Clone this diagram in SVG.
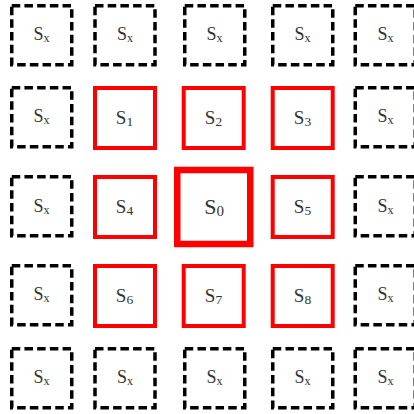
<svg xmlns="http://www.w3.org/2000/svg" width="414" height="414" viewBox="0 0 414 414">
<style>
.bg{fill:#ffffff}
.dash rect{fill:none;stroke:#000;stroke-width:3.5;stroke-dasharray:8.5 4.2}
.red rect{fill:none;stroke:#ff0000;stroke-width:4}
#S0 rect{stroke-width:6.5}
text{font-family:"Liberation Serif","Times New Roman",serif;fill:#333;text-anchor:middle}
.lx{font-size:18px}
.lx tspan{font-size:12px}
.ln{font-size:19px}
.ln tspan{font-size:13.5px}
#S0 text{font-size:22px}
#S0 text tspan{font-size:15px}
</style>
<rect class="bg" x="0" y="0" width="414" height="414"/>
<g id="connectors"/>
<g id="Sx_r1c1" class="dash"><rect x="11.75" y="5.75" width="60" height="59"/><text class="lx" x="41.5" y="39.5">S<tspan dy="2">x</tspan></text></g>
<g id="Sx_r1c2" class="dash"><rect x="95" y="5.75" width="60" height="59"/><text class="lx" x="125" y="39.5">S<tspan dy="2">x</tspan></text></g>
<g id="Sx_r1c3" class="dash"><rect x="184.75" y="5.75" width="60" height="59"/><text class="lx" x="214.5" y="39.5">S<tspan dy="2">x</tspan></text></g>
<g id="Sx_r1c4" class="dash"><rect x="272.75" y="5.75" width="60" height="59"/><text class="lx" x="302.5" y="39.5">S<tspan dy="2">x</tspan></text></g>
<g id="Sx_r1c5" class="dash"><rect x="355.25" y="5.75" width="60" height="59"/><text class="lx" x="385.5" y="39.5">S<tspan dy="2">x</tspan></text></g>
<g id="Sx_r2c1" class="dash"><rect x="11.75" y="87.75" width="60" height="59"/><text class="lx" x="41.5" y="122">S<tspan dy="2">x</tspan></text></g>
<g id="S1" class="red"><rect x="95" y="88" width="60" height="60"/><text class="ln" x="124.5" y="124">S<tspan dy="1.5">1</tspan></text></g>
<g id="S2" class="red"><rect x="183.7" y="88" width="60" height="60"/><text class="ln" x="213.5" y="124">S<tspan dy="1.5">2</tspan></text></g>
<g id="S3" class="red"><rect x="272.7" y="88" width="60" height="60"/><text class="ln" x="302.5" y="124">S<tspan dy="1.5">3</tspan></text></g>
<g id="Sx_r2c5" class="dash"><rect x="355.25" y="87.75" width="60" height="59"/><text class="lx" x="385.5" y="122">S<tspan dy="2">x</tspan></text></g>
<g id="Sx_r3c1" class="dash"><rect x="11.75" y="176.75" width="60" height="59"/><text class="lx" x="41.5" y="211.5">S<tspan dy="2">x</tspan></text></g>
<g id="S4" class="red"><rect x="95" y="177" width="60" height="60"/><text class="ln" x="124.5" y="213">S<tspan dy="1.5">4</tspan></text></g>
<g id="S0" class="red"><rect x="177.25" y="170" width="73" height="74"/><text x="214" y="213.5">S<tspan dy="2">0</tspan></text></g>
<g id="S5" class="red"><rect x="272.7" y="177" width="60" height="60"/><text class="ln" x="302.5" y="213">S<tspan dy="1.5">5</tspan></text></g>
<g id="Sx_r3c5" class="dash"><rect x="355.25" y="176.75" width="60" height="59"/><text class="lx" x="385.5" y="211.5">S<tspan dy="2">x</tspan></text></g>
<g id="Sx_r4c1" class="dash"><rect x="11.75" y="265.75" width="60" height="59"/><text class="lx" x="41.5" y="300">S<tspan dy="2">x</tspan></text></g>
<g id="S6" class="red"><rect x="95" y="266" width="60" height="60"/><text class="ln" x="124.5" y="302">S<tspan dy="1.5">6</tspan></text></g>
<g id="S7" class="red"><rect x="183.7" y="266" width="60" height="60"/><text class="ln" x="213.5" y="302">S<tspan dy="1.5">7</tspan></text></g>
<g id="S8" class="red"><rect x="272.7" y="266" width="60" height="60"/><text class="ln" x="302.5" y="302">S<tspan dy="1.5">8</tspan></text></g>
<g id="Sx_r4c5" class="dash"><rect x="355.25" y="265.75" width="60" height="59"/><text class="lx" x="385.5" y="300">S<tspan dy="2">x</tspan></text></g>
<g id="Sx_r5c1" class="dash"><rect x="11.75" y="348.75" width="60" height="59"/><text class="lx" x="41.5" y="383">S<tspan dy="2">x</tspan></text></g>
<g id="Sx_r5c2" class="dash"><rect x="95" y="348.75" width="60" height="59"/><text class="lx" x="125" y="383">S<tspan dy="2">x</tspan></text></g>
<g id="Sx_r5c3" class="dash"><rect x="184.75" y="348.75" width="60" height="59"/><text class="lx" x="214.5" y="383">S<tspan dy="2">x</tspan></text></g>
<g id="Sx_r5c4" class="dash"><rect x="272.75" y="348.75" width="60" height="59"/><text class="lx" x="302.5" y="383">S<tspan dy="2">x</tspan></text></g>
<g id="Sx_r5c5" class="dash"><rect x="355.25" y="348.75" width="60" height="59"/><text class="lx" x="385.5" y="383">S<tspan dy="2">x</tspan></text></g>
</svg>
